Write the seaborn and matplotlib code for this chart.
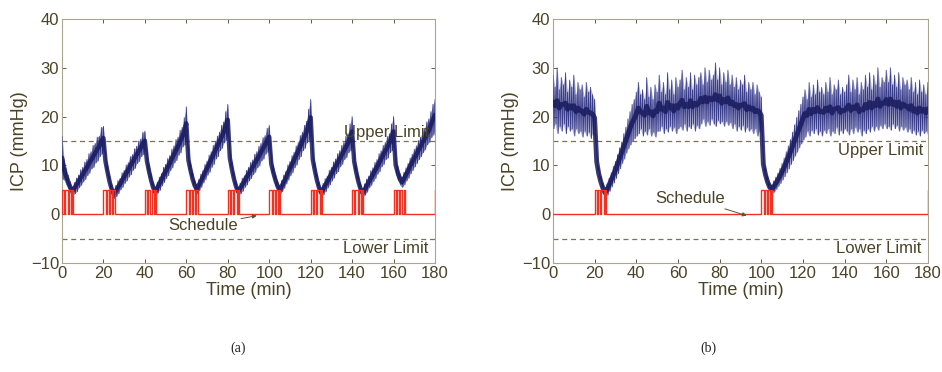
import numpy as np
import pandas as pd
import matplotlib
matplotlib.use("Agg")
import matplotlib.pyplot as plt
import seaborn as sns

# ---------------- data ----------------
minutes = list(range(0, 181))

# panel (a): upper / lower edge of the noisy ICP trace, one value per minute
icp_a_hi = [16.0, 11.2, 9.5, 8.0, 6.6, 5.6, 6.5, 7.4, 8.0, 9.1, 9.6, 10.7, 11.2, 12.4, 12.8, 14.1, 14.5, 15.8, 16.0, 17.8, 18.0,
            12.6, 10.0, 7.8, 6.1, 5.0, 5.9, 6.9, 7.3, 8.5, 9.0, 10.1, 10.6, 11.8, 12.2, 13.4, 13.9, 15.0, 15.4, 16.8, 17.0,
            12.8, 10.2, 8.1, 6.5, 5.5, 6.6, 7.6, 8.3, 9.6, 10.2, 11.4, 12.0, 13.3, 14.0, 15.3, 15.8, 17.2, 17.8, 19.8, 22.0,
            13.0, 10.5, 8.5, 7.0, 6.0, 7.1, 8.2, 8.9, 10.2, 10.9, 12.1, 12.8, 14.1, 14.8, 16.0, 16.8, 18.2, 18.9, 21.0, 22.5,
            13.2, 10.6, 8.4, 6.7, 5.5, 6.4, 7.4, 7.9, 9.0, 9.6, 10.6, 11.1, 12.3, 12.8, 13.9, 14.5, 15.7, 16.1, 17.6, 18.2,
            12.0, 9.9, 8.2, 6.8, 5.8, 6.9, 8.0, 8.7, 10.1, 10.8, 12.0, 12.7, 14.0, 14.7, 16.1, 16.8, 18.2, 19.0, 21.5, 23.5,
            13.0, 10.4, 8.2, 6.5, 5.3, 6.3, 7.3, 7.8, 9.0, 9.6, 10.7, 11.3, 12.4, 13.0, 14.1, 14.7, 16.0, 16.5, 18.5, 20.0,
            12.6, 10.0, 7.9, 6.3, 5.2, 6.2, 7.2, 7.8, 8.9, 9.5, 10.6, 11.2, 12.4, 13.0, 14.1, 14.7, 15.9, 16.5, 18.5, 20.0,
            12.0, 10.0, 8.5, 7.6, 8.6, 9.5, 10.4, 11.5, 12.3, 13.3, 14.0, 15.1, 15.8, 17.0, 17.6, 18.9, 19.5, 21.0, 22.5, 23.5]
icp_a_lo = [7.2, 7.0, 6.0, 5.2, 4.3, 3.8, 4.2, 4.6, 5.4, 5.9, 6.6, 7.1, 7.9, 8.4, 9.3, 9.6, 10.5, 10.9, 11.8, 12.3, 13.2,
            9.0, 7.2, 5.4, 4.0, 3.2, 3.6, 4.2, 5.0, 5.5, 6.3, 6.8, 7.6, 8.1, 9.0, 9.4, 10.4, 10.8, 11.8, 12.2, 13.1,
            9.0, 7.4, 5.8, 4.4, 3.6, 4.3, 4.9, 5.8, 6.5, 7.3, 7.9, 8.9, 9.5, 10.5, 11.0, 12.1, 12.6, 13.8, 14.2, 15.2,
            9.2, 7.6, 6.0, 4.8, 4.2, 4.8, 5.5, 6.4, 7.1, 8.0, 8.6, 9.6, 10.2, 11.3, 11.8, 13.0, 13.5, 14.6, 15.1, 16.2,
            9.8, 7.8, 6.0, 4.6, 3.7, 4.2, 4.7, 5.5, 6.0, 6.8, 7.3, 8.1, 8.6, 9.5, 9.9, 10.9, 11.3, 12.3, 12.7, 13.5,
            8.5, 7.1, 5.8, 4.7, 4.0, 4.6, 5.3, 6.2, 7.0, 7.9, 8.5, 9.5, 10.1, 11.2, 11.8, 13.0, 13.5, 14.6, 15.1, 16.2,
            9.5, 7.6, 5.8, 4.4, 3.5, 4.0, 4.6, 5.4, 6.0, 6.8, 7.4, 8.3, 8.7, 9.7, 10.2, 11.2, 11.6, 12.6, 13.0, 13.9,
            9.0, 7.2, 5.5, 4.2, 3.4, 3.9, 4.5, 5.4, 5.9, 6.7, 7.3, 8.2, 8.7, 9.7, 10.2, 11.2, 11.5, 12.6, 13.0, 13.9,
            8.2, 7.0, 6.0, 5.5, 6.0, 6.8, 7.4, 8.3, 9.0, 9.7, 10.4, 11.2, 11.8, 12.6, 13.2, 14.2, 14.7, 15.7, 16.2, 17.2]

# panel (b)
icp_b_hi = [28.5, 26.0, 30.0, 25.5, 28.0, 26.5, 29.0, 25.0, 27.5, 26.0, 28.5, 24.5, 27.0, 25.5, 26.5, 24.0, 27.0, 25.0, 26.0, 24.5, 23.5,
            12.5, 9.5, 7.8, 6.4, 5.4,
            6.2, 7.4, 8.5, 9.8, 10.8, 12.2, 13.6, 14.8, 16.5, 17.8, 19.5, 21.0, 22.5, 23.5, 25.0,
            27.0, 24.5, 25.5, 23.5, 28.0, 24.0, 26.0, 23.5, 26.5, 25.0,
            28.5, 25.0, 27.0, 24.5, 29.0, 25.5, 27.5, 24.5, 28.0, 26.0,
            27.5, 29.5, 25.5, 28.0, 26.0, 29.0, 25.5, 28.5, 26.5, 28.0,
            29.0, 26.5, 30.0, 27.0, 29.5, 27.5, 28.5, 31.0, 27.5, 30.0, 26.5, 29.0, 27.0, 29.5, 26.5,
            28.5, 26.0, 28.0, 25.5, 27.5, 26.5, 28.5, 25.0, 27.0, 25.5,
            27.0, 24.5, 26.5, 25.0, 24.0,
            12.0, 9.5, 7.8, 6.6, 6.0,
            6.8, 7.6, 8.4, 9.4, 10.4, 11.5, 12.8, 14.0, 15.3, 16.8, 18.3, 19.8, 21.2, 22.5, 24.0,
            25.5, 23.5, 27.0, 24.0, 26.5, 24.5, 27.5, 25.0, 26.0, 24.5,
            27.0, 25.0, 28.0, 24.5, 26.5, 25.5, 27.5, 24.5, 26.0, 25.0,
            26.5, 28.5, 25.0, 27.5, 25.5, 28.0, 24.5, 27.0, 25.5, 28.5,
            26.0, 29.0, 25.5, 28.5, 26.5, 30.0, 26.0, 28.0, 27.0, 29.5,
            27.0, 30.0, 26.5, 28.5, 26.0, 29.0, 25.5, 28.0, 26.5, 27.5,
            25.5, 28.0, 25.0, 27.0, 24.5, 27.5, 25.0, 26.5, 24.5, 27.0]
icp_b_lo = [17.5, 18.5, 16.5, 18.0, 17.0, 18.5, 16.5, 18.0, 17.0, 17.5, 16.0, 17.5, 16.5, 17.0, 15.8, 17.0, 16.0, 16.8, 15.5, 16.5, 16.0,
            9.0, 7.0, 5.4, 4.2, 3.4,
            3.9, 4.7, 5.6, 6.4, 7.3, 8.3, 9.3, 10.4, 11.3, 12.5, 13.4, 14.2, 15.0, 15.5, 16.0,
            16.5, 17.5, 16.0, 17.0, 16.2, 17.5, 16.0, 16.8, 15.8, 17.0,
            17.0, 18.0, 16.5, 17.5, 16.8, 18.0, 17.0, 17.8, 16.5, 17.5,
            18.0, 17.2, 18.5, 17.0, 18.0, 17.5, 18.5, 17.0, 18.2, 17.5,
            18.5, 19.5, 18.0, 19.0, 18.2, 19.5, 18.5, 18.0, 19.2, 18.5, 19.0, 18.0, 19.0, 18.2, 18.8,
            17.5, 18.5, 17.0, 18.0, 17.2, 18.2, 16.8, 17.8, 17.0, 17.5,
            16.5, 17.5, 16.0, 17.0, 16.5,
            8.5, 6.8, 5.5, 4.5, 4.2,
            4.5, 5.1, 5.7, 6.3, 7.0, 7.7, 8.5, 9.3, 10.2, 11.0, 11.9, 12.7, 13.6, 14.4, 15.2,
            15.8, 17.0, 16.0, 17.2, 16.5, 17.5, 16.2, 17.0, 16.0, 17.2,
            16.5, 17.5, 16.0, 17.0, 16.5, 17.8, 16.2, 17.2, 16.5, 17.5,
            17.0, 16.2, 17.5, 16.5, 17.8, 16.8, 17.5, 16.0, 17.2, 16.5,
            17.5, 16.8, 18.0, 17.0, 18.0, 17.2, 18.2, 17.5, 18.5, 17.5,
            18.0, 17.2, 18.5, 17.5, 18.2, 17.0, 18.0, 17.2, 17.8, 16.8,
            17.5, 16.5, 17.2, 16.2, 17.0, 16.0, 17.2, 16.5, 17.0, 16.2]

# valve schedule: pulse start times and on/off edges inside one pulse (min)
schedule_a = [0, 20, 40, 60, 80, 100, 120, 140, 160, 180]
schedule_b = [20, 100, 180]
pulse_edges = [0.0, 1.1, 1.6, 2.7, 3.2, 4.3, 4.8, 5.4]
pulse_level = 5
upper_limit = 15
lower_limit = -5
x_ticks = [0, 20, 40, 60, 80, 100, 120, 140, 160, 180]
y_ticks = [-10, 0, 10, 20, 30, 40]

# ---------------- style ----------------
sns.set_theme(style="white")
plt.rcParams["font.family"] = ["Liberation Sans", "DejaVu Sans"]
TXT = "#4a4326"
NAVY = "#191b5e"
NAVY_M = "#2b2f80"
NAVY_L = "#4a4e9c"
RED = "#ee3322"
LIM = "#7a735a"

fig = plt.figure(figsize=(9.42, 3.72), dpi=100)
ax_a = fig.add_axes([0.0658, 0.293, 0.396, 0.656])
ax_b = fig.add_axes([0.587, 0.293, 0.398, 0.656])


def schedule_frame(starts):
    xs, ys = [0.0], [0.0]
    for s in starts:
        for i, e in enumerate(pulse_edges):
            prev = 0 if i % 2 == 0 else pulse_level
            nxt = pulse_level if i % 2 == 0 else 0
            xs += [s + e, s + e]
            ys += [prev, nxt]
    xs.append(max(starts[-1] + pulse_edges[-1], 180))
    ys.append(0)
    return pd.DataFrame({"t": xs, "v": ys})


def draw(ax, hi, lo, starts, core_lw, fill_alpha):
    t = np.array(minutes, dtype=float)
    hi = np.array(hi)
    lo = np.array(lo)
    ax.fill_between(t, lo, hi, color=NAVY_L, alpha=fill_alpha, lw=0, zorder=2)
    zz_t = np.ravel(np.column_stack([t, t + 0.5]))[:-1]
    zz_v = np.ravel(np.column_stack([hi, lo]))[:-1]
    zig = pd.DataFrame({"t": zz_t, "v": zz_v})
    sns.lineplot(data=zig, x="t", y="v", ax=ax, sort=False, estimator=None,
                 color=NAVY_M, lw=0.6, alpha=0.9, zorder=3)
    mid = pd.DataFrame({"t": t, "v": (hi + lo) / 2})
    sns.lineplot(data=mid, x="t", y="v", ax=ax, sort=False, estimator=None,
                 color=NAVY, lw=core_lw, alpha=0.85, zorder=4)
    sch = schedule_frame(starts)
    sns.lineplot(data=sch, x="t", y="v", ax=ax, sort=False, estimator=None,
                 color=RED, lw=1.0, zorder=5)
    ax.axhline(upper_limit, color=LIM, lw=0.9, dashes=(4, 3), zorder=1)
    ax.axhline(lower_limit, color=LIM, lw=0.9, dashes=(4, 3), zorder=1)
    ax.set_xlim(0, 180)
    ax.set_ylim(-10, 40)
    ax.set_xticks(x_ticks)
    ax.set_yticks(y_ticks)
    ax.tick_params(direction="in", length=3, width=0.6, top=True, right=True,
                   labelsize=12, colors=TXT, pad=2, bottom=True, left=True)
    for sp in ax.spines.values():
        sp.set_color("#a8a690")
        sp.set_linewidth(0.8)
    ax.set_xlabel("Time (min)", fontsize=13, color=TXT, labelpad=1)
    ax.set_ylabel("ICP (mmHg)", fontsize=13, color=TXT, labelpad=2)
    ax.text(177, -7.0, "Lower Limit", ha="right", va="center", fontsize=12, color=TXT, zorder=6)


draw(ax_a, icp_a_hi, icp_a_lo, schedule_a, 3.2, 0.6)
draw(ax_b, icp_b_hi, icp_b_lo, schedule_b, 3.5, 0.45)

ax_a.text(177, 16.8, "Upper Limit", ha="right", va="center", fontsize=12, color=TXT, zorder=6)
ax_b.text(178, 13.0, "Upper Limit", ha="right", va="center", fontsize=12, color=TXT, zorder=6)

ax_a.annotate("Schedule", xy=(94, -0.3), xytext=(68, -2.4), ha="center", va="center",
              fontsize=12, color=TXT,
              arrowprops=dict(arrowstyle="-|>", color="#5a5236", lw=0.7, mutation_scale=6,
                              shrinkA=28, shrinkB=0), zorder=6)
ax_b.annotate("Schedule", xy=(93, -0.3), xytext=(66, 3.3), ha="center", va="center",
              fontsize=12, color=TXT,
              arrowprops=dict(arrowstyle="-|>", color="#5a5236", lw=0.7, mutation_scale=6,
                              shrinkA=30, shrinkB=0), zorder=6)

fig.text(238 / 942, 1 - 348 / 372, "(a)", ha="center", va="center", fontsize=10,
         family=["Liberation Serif", "DejaVu Serif"], color="#222222")
fig.text(708 / 942, 1 - 348 / 372, "(b)", ha="center", va="center", fontsize=10,
         family=["Liberation Serif", "DejaVu Serif"], color="#222222")

fig.savefig("out.png", dpi=100, facecolor="white")
